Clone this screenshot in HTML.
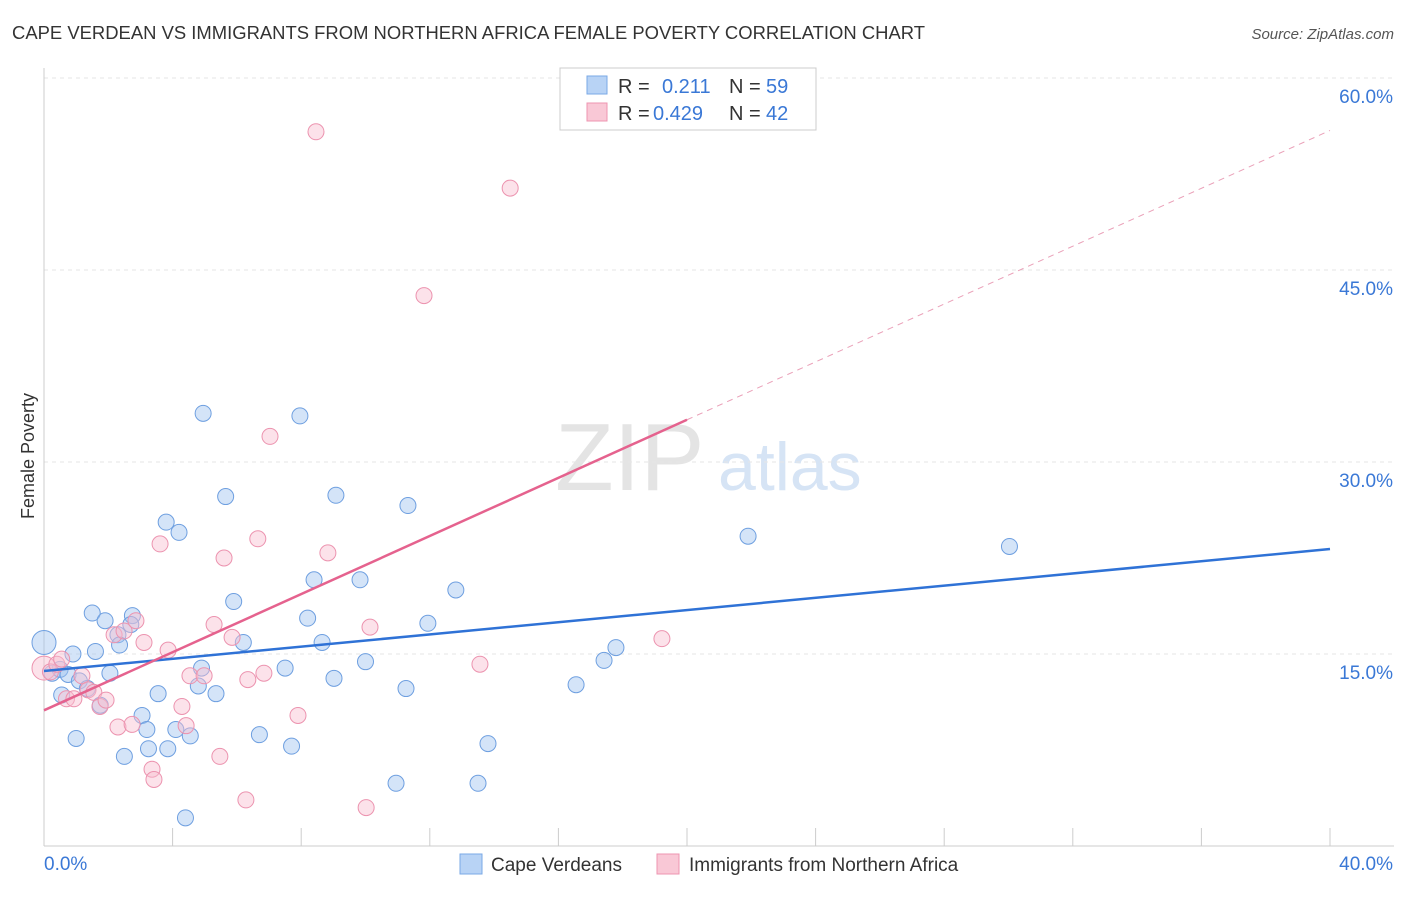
<!DOCTYPE html>
<html><head><meta charset="utf-8"><style>
body{margin:0;background:#fff;font-family:"Liberation Sans",sans-serif;}
svg text{font-family:"Liberation Sans",sans-serif;}
</style></head><body>
<svg id="chart" width="1406" height="892">
<text x="12" y="39" font-size="18" fill="#333" textLength="913" lengthAdjust="spacingAndGlyphs">CAPE VERDEAN VS IMMIGRANTS FROM NORTHERN AFRICA FEMALE POVERTY CORRELATION CHART</text>
<text x="1394" y="39" font-size="15" fill="#555" font-style="italic" text-anchor="end">Source: ZipAtlas.com</text>
<text x="34" y="456" font-size="18" fill="#333" transform="rotate(-90 34 456)" text-anchor="middle">Female Poverty</text>
<text x="555" y="490" font-size="96" fill="#e4e4e4" font-family="Liberation Serif">ZIP</text>
<text x="718" y="490" font-size="68" fill="#d6e4f5">atlas</text>
<g id="grid"></g><g id="axes"></g><g id="pts"></g><g id="lines"></g>
<g>
<rect x="560" y="68" width="256" height="62" fill="#fff" stroke="#ccc"/>
<rect x="587" y="76" width="20" height="18" fill="#b8d3f5" stroke="#7aa8e6"/>
<text x="618" y="93" font-size="20" fill="#333">R = </text><text x="662" y="93" font-size="20" fill="#3a78d6">0.211</text>
<text x="729" y="93" font-size="20" fill="#333">N = </text><text x="766" y="93" font-size="20" fill="#3a78d6">59</text>
<rect x="587" y="103" width="20" height="18" fill="#f9c8d6" stroke="#ee94b0"/>
<text x="618" y="120" font-size="20" fill="#333">R = </text><text x="653" y="120" font-size="20" fill="#3a78d6">0.429</text>
<text x="729" y="120" font-size="20" fill="#333">N = </text><text x="766" y="120" font-size="20" fill="#3a78d6">42</text>
</g>
<g>
<rect x="460" y="854" width="22" height="20" fill="#b8d3f5" stroke="#7aa8e6"/>
<text x="491" y="871" font-size="19" fill="#333">Cape Verdeans</text>
<rect x="657" y="854" width="22" height="20" fill="#f9c8d6" stroke="#ee94b0"/>
<text x="689" y="871" font-size="19" fill="#333">Immigrants from Northern Africa</text>
</g>
</svg>
<script>
const xTicks=[0,40];
const yTicks=[15,30,45,60];
const blueX=[0,0.25,0.5,0.75,0.55,0.9,1.0,1.1,1.35,1.5,1.6,1.75,1.9,2.05,2.3,2.35,2.5,2.75,2.7,3.05,3.2,3.25,3.55,3.8,3.85,4.1,4.2,4.4,4.55,4.8,4.9,4.95,5.35,5.65,5.9,6.2,6.7,7.5,7.7,7.96,8.2,8.4,8.65,9.08,9.02,9.83,10.0,10.95,11.32,11.26,11.94,12.81,13.5,13.81,16.55,17.42,17.79,21.9,30.03];
const blueY=[15.9,13.5,13.8,13.4,11.8,15.0,8.4,12.9,12.3,18.2,15.2,11.0,17.6,13.5,16.5,15.7,7.0,18.0,17.3,10.2,9.1,7.6,11.9,25.3,7.6,9.1,24.5,2.2,8.6,12.5,13.9,33.8,11.9,27.3,19.1,15.9,8.7,13.9,7.8,33.6,17.8,20.8,15.9,27.4,13.1,20.8,14.4,4.9,26.6,12.3,17.4,20.0,4.9,8.0,12.6,14.5,15.5,24.2,23.4];
const pinkX=[0,0.2,0.4,0.55,0.7,0.93,1.18,1.37,1.55,1.74,1.93,2.18,2.3,2.49,2.74,2.86,3.11,3.36,3.42,3.61,3.86,4.29,4.42,4.54,4.98,5.29,5.47,5.6,5.85,6.28,6.34,6.65,6.84,7.03,7.9,8.46,8.83,10.02,10.14,11.82,13.56,14.5,19.22];
const pinkY=[13.9,13.6,14.2,14.6,11.5,11.5,13.3,12.2,12.0,10.9,11.4,16.5,9.3,16.8,9.5,17.6,15.9,6.0,5.2,23.6,15.3,10.9,9.4,13.3,13.3,17.3,7.0,22.5,16.3,3.6,13.0,24.0,13.5,32.0,10.2,55.8,22.9,3.0,17.1,43.0,14.2,51.4,16.2];
const sx=v=>44+v*(1330-44)/40, sy=v=>846-v*12.8;
const NS='http://www.w3.org/2000/svg';
function mk(t,a,p){const e=document.createElementNS(NS,t);for(const k in a)e.setAttribute(k,a[k]);p.appendChild(e);return e;}
const grid=document.getElementById('grid'),axes=document.getElementById('axes'),pts=document.getElementById('pts'),lines=document.getElementById('lines');
yTicks.forEach(t=>{const l=mk('line',{x1:44,x2:1394,y1:sy(t),y2:sy(t),stroke:'#e6e6e6','stroke-dasharray':'4,4'},grid);


const tx=mk('text',{x:1393,y:sy(t)+25,'font-size':19,fill:'#3a78d6','text-anchor':'end'},axes);tx.textContent=t.toFixed(1)+'%';

});
mk('line',{x1:44,x2:44,y1:68,y2:846,stroke:'#ccc'},axes);
mk('line',{x1:44,x2:1394,y1:846,y2:846,stroke:'#ccc'},axes);
for(let i=0;i<=10;i++){mk('line',{x1:sx(i*4),x2:sx(i*4),y1:828,y2:846,stroke:'#ccc'},axes);}
xTicks.forEach((t,i)=>{const tx=mk('text',{x:i?1393:44,y:870,'font-size':19,fill:'#3a78d6','text-anchor':i?'end':'start'},axes);tx.textContent=t.toFixed(1)+'%';

});
blueX.forEach((x,i)=>{const c=mk('circle',{cx:sx(x),cy:sy(blueY[i]),r:i==0?12:8,fill:'rgba(160,196,240,0.45)',stroke:'#6e9fe0','stroke-width':1},pts);

});
pinkX.forEach((x,i)=>{const c=mk('circle',{cx:sx(x),cy:sy(pinkY[i]),r:i==0?12:8,fill:'rgba(248,190,208,0.45)',stroke:'#ec93af','stroke-width':1},pts);

});
const b=mk('line',{x1:sx(0),y1:sy(13.67),x2:sx(40),y2:sy(23.2),stroke:'#2f72d6','stroke-width':2.5},lines);


const p=mk('line',{x1:sx(0),y1:sy(10.6),x2:sx(20),y2:sy(33.3),stroke:'#e5628e','stroke-width':2.5},lines);


const pd=mk('line',{x1:sx(20),y1:sy(33.3),x2:sx(40),y2:sy(55.9),stroke:'#eaa0b8','stroke-width':1,'stroke-dasharray':'6,5'},lines);


</script>
</body></html>
